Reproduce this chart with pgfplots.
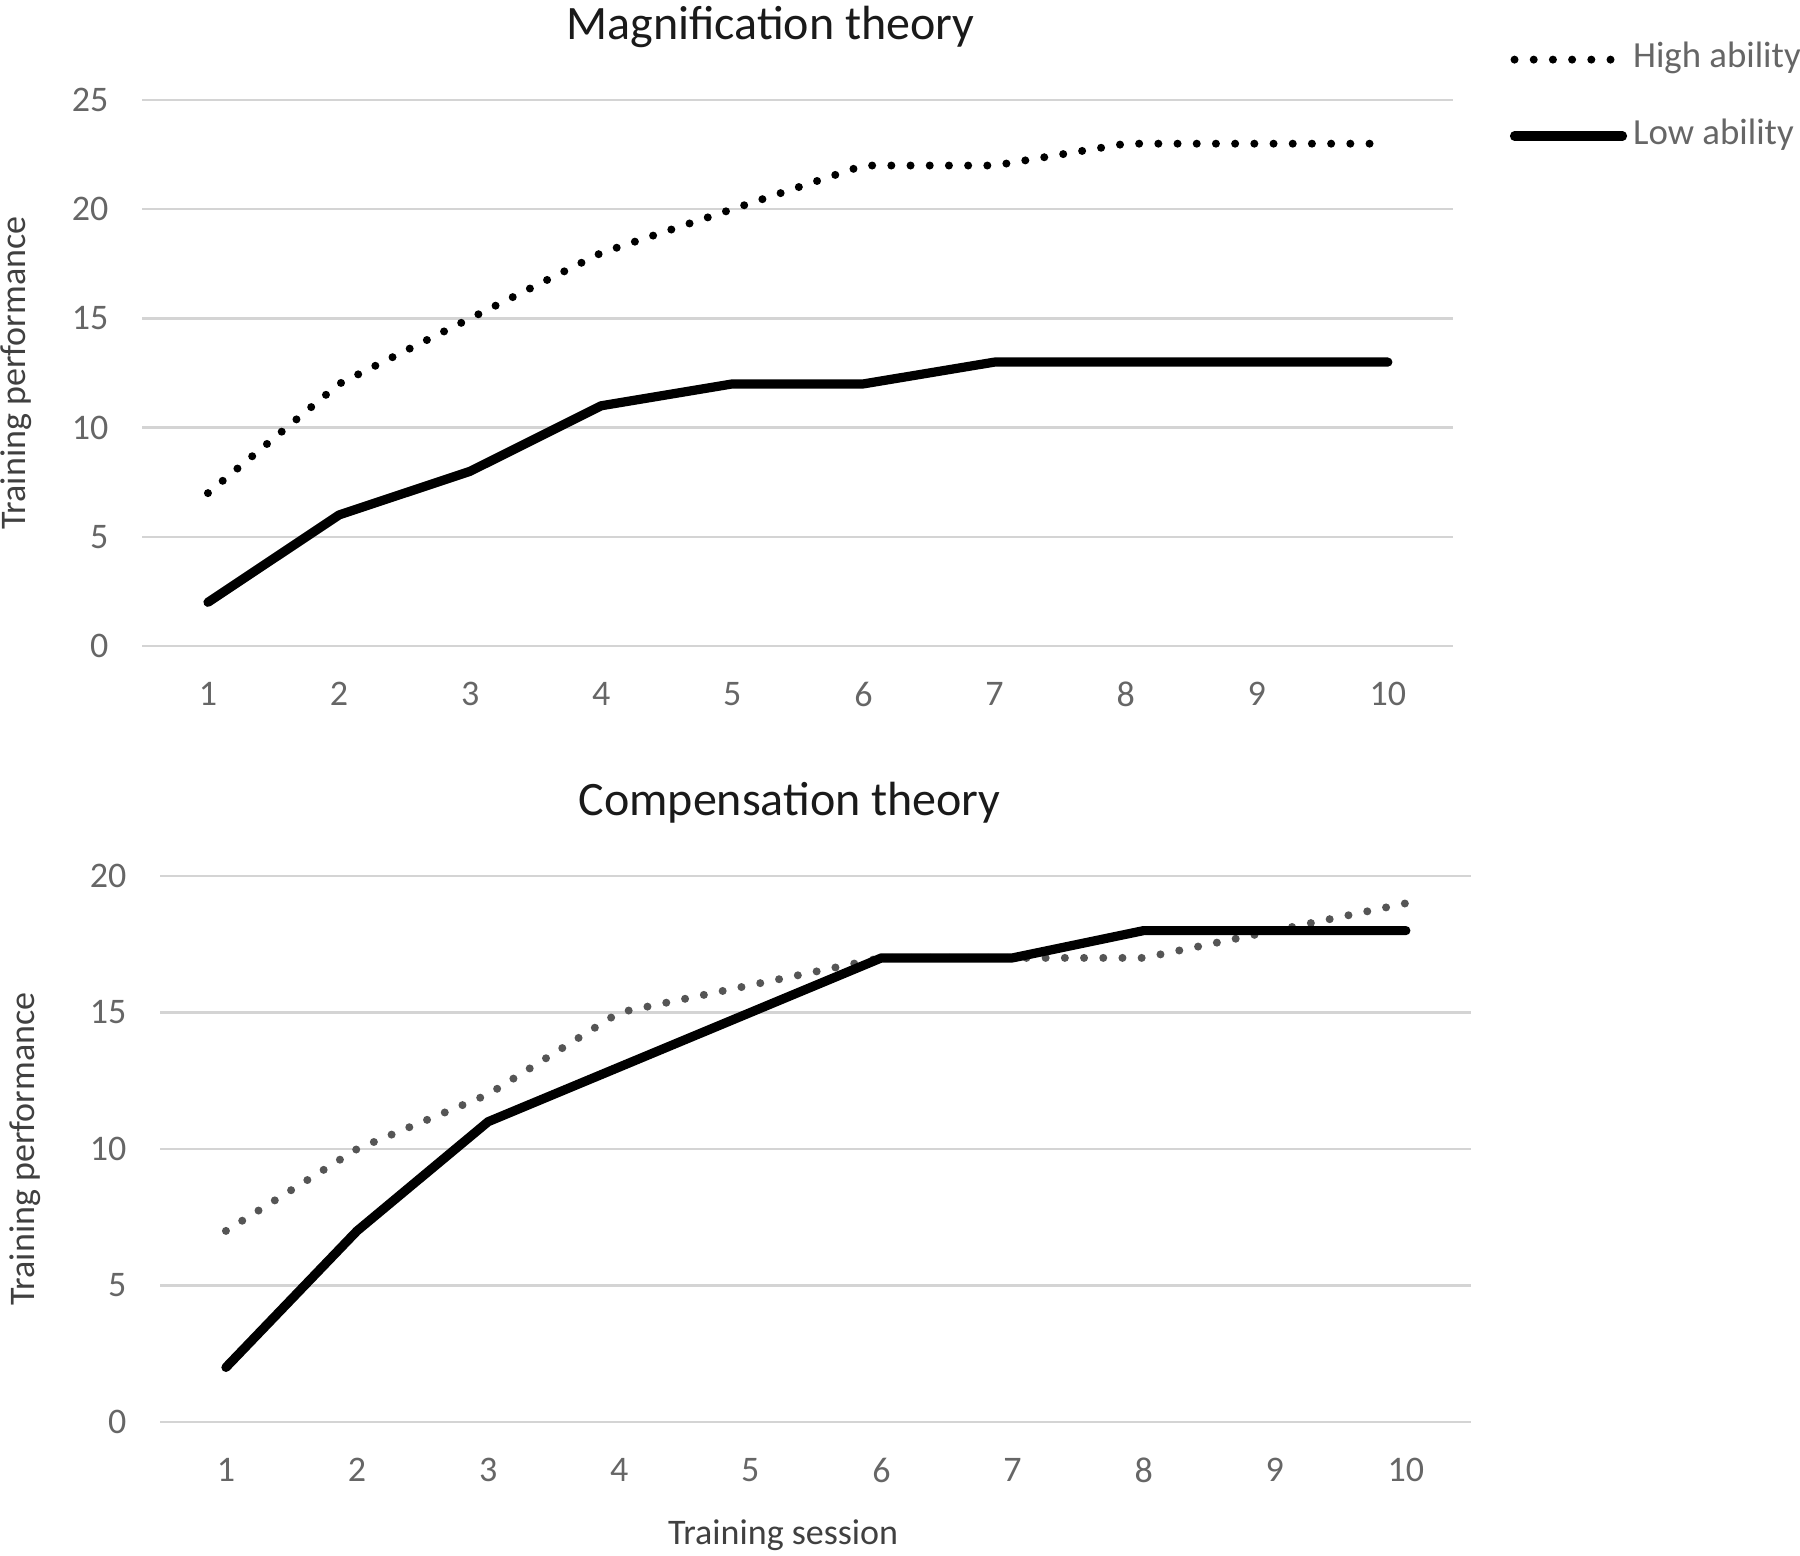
\documentclass[border=0pt]{standalone}
\usepackage{pgfplots}
\pgfplotsset{compat=1.18}
\usepackage{fontspec}
\setmainfont{Carlito}
\definecolor{gridgray}{HTML}{D4D4D4}
\definecolor{ticktext}{HTML}{666666}
\definecolor{labeltext}{HTML}{404040}
\definecolor{titletext}{HTML}{1A1A1A}
\definecolor{dotgray}{HTML}{555555}
\pgfplotsset{
  panel/.style={
    scale only axis, width=327.75pt, height=136.5pt,
    anchor=south west, clip=false,
    xmin=0.5, xmax=10.5, ymin=0,
    xtick={1,...,10},
    ymajorgrids, grid style={line width=0.6pt, color=gridgray},
    axis line style={draw=none}, major tick style={draw=none},
    /pgf/number format/assume math mode=true,
    tick label style={font=\fontsize{9}{10}\selectfont, text=ticktext},
    yticklabel style={xshift=-5pt},
    xticklabel style={yshift=-5.5pt},
    label style={font=\fontsize{9}{10}\selectfont, text=labeltext},
    every axis title shift=0pt,
    title style={font=\fontsize{12}{14}\selectfont, text=titletext, anchor=base, yshift=0pt},
  },
  hi/.style={line width=2pt, dash pattern=on 0pt off 4.8pt, line cap=round},
  lo/.style={line width=2.3pt, line cap=round, line join=round},
}
\begin{document}
\begin{tikzpicture}
\useasboundingbox (0,0) rectangle (450pt,388.75pt);
\begin{axis}[panel,
  at={(35.6pt,227.25pt)},
  ymax=25, ytick={0,5,...,25},
  title={Magnification theory},
  title style={at={(axis description cs:0.479,1.1117)}},
  ylabel={Training performance},
  ylabel style={at={(axis description cs:-0.0964,0.5)}, anchor=center},
  legend style={draw=none, fill=none, inner sep=0pt,
    at={(axis description cs:1.0425,1.1157)}, anchor=north west,
    row sep=8.1pt,
    nodes={text height=6pt, text depth=2pt, inner sep=1.5pt, font=\fontsize{9.2}{10}\selectfont, text=ticktext}},
  legend cell align=left,
  legend image code/.code={\draw[#1] (0pt,0pt) -- (27pt,0pt);},
]
\addplot[black, hi] coordinates {(1,7) (2,12) (3,15) (4,18) (5,20) (6,22) (7,22) (8,23) (9,23) (10,23)};
\addlegendentry{High ability}
\addplot[black, lo] coordinates {(1,2) (2,6) (3,8) (4,11) (5,12) (6,12) (7,13) (8,13) (9,13) (10,13)};
\addlegendentry{Low ability}
\end{axis}
\begin{axis}[panel,
  at={(40.1pt,33.25pt)},
  ymax=20, ytick={0,5,...,20},
  title={Compensation theory},
  title style={at={(axis description cs:0.48,1.110)}},
  ylabel={Training performance},
  ylabel style={at={(axis description cs:-0.1032,0.5)}, anchor=center},
  xlabel={Training session},
  xlabel style={at={(axis description cs:0.475,-0.207)}, anchor=center},
]
\addplot[dotgray, hi] coordinates {(1,7) (2,10) (3,12) (4,15) (5,16) (6,17) (7,17) (8,17) (9,18) (10,19)};
\addplot[black, lo] coordinates {(1,2) (2,7) (3,11) (4,13) (5,15) (6,17) (7,17) (8,18) (9,18) (10,18)};
\end{axis}
\end{tikzpicture}
\end{document}
